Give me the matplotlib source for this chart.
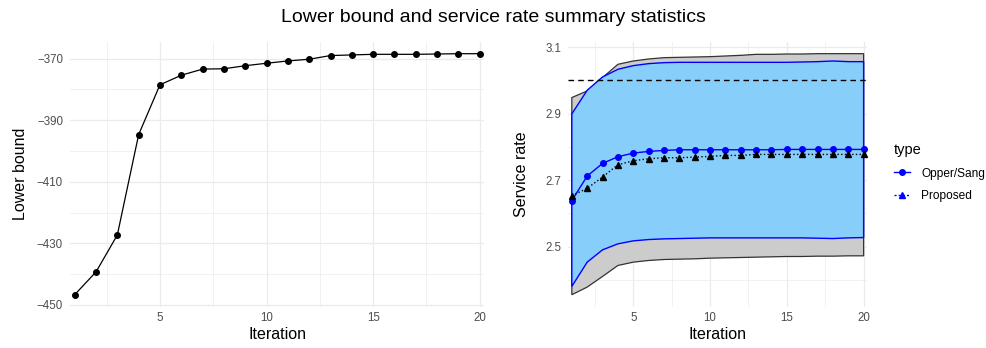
import numpy as np
import matplotlib
matplotlib.use("Agg")
import matplotlib.pyplot as plt
from matplotlib.lines import Line2D

plt.rcParams['font.family'] = ['Liberation Sans', 'DejaVu Sans']

# data
iteration = np.arange(1, 21)
lower_bound = [-446.7, -439.3, -427.3, -394.7, -378.5, -375.4, -373.4, -373.3, -372.3, -371.5,
               -370.75, -370.2, -369.0, -368.8, -368.6, -368.6, -368.6, -368.5, -368.4, -368.4]

gray_upper = [2.948, 2.968, 3.008, 3.048, 3.058, 3.064, 3.068, 3.069, 3.070, 3.071,
              3.073, 3.075, 3.078, 3.078, 3.079, 3.079, 3.080, 3.080, 3.080, 3.080]
gray_lower = [2.355, 2.378, 2.410, 2.443, 2.453, 2.458, 2.461, 2.462, 2.463, 2.465,
              2.466, 2.467, 2.468, 2.469, 2.470, 2.470, 2.471, 2.471, 2.472, 2.472]
blue_upper = [2.899, 2.970, 3.010, 3.033, 3.044, 3.050, 3.053, 3.054, 3.054, 3.054,
              3.054, 3.054, 3.054, 3.054, 3.054, 3.055, 3.056, 3.058, 3.056, 3.056]
blue_lower = [2.380, 2.453, 2.490, 2.508, 2.517, 2.521, 2.523, 2.524, 2.525, 2.526,
              2.526, 2.526, 2.526, 2.526, 2.526, 2.526, 2.525, 2.524, 2.526, 2.527]
opper_sang = [2.638, 2.712, 2.750, 2.770, 2.781, 2.786, 2.789, 2.791, 2.791, 2.791,
              2.791, 2.791, 2.791, 2.791, 2.792, 2.792, 2.792, 2.792, 2.792, 2.792]
proposed = [2.653, 2.675, 2.709, 2.746, 2.758, 2.764, 2.767, 2.767, 2.769, 2.771,
            2.774, 2.774, 2.777, 2.777, 2.777, 2.777, 2.777, 2.777, 2.777, 2.777]
target_rate = 3.0

W, H = 987, 348
fig = plt.figure(figsize=(W / 100, H / 100), dpi=100)

GRID = '#EBEBEB'
TICK = '#4D4D4D'


def style_axes(ax):
    for s in ax.spines.values():
        s.set_visible(False)
    ax.tick_params(length=0, labelsize=8.3, labelcolor=TICK)
    ax.tick_params(axis='y', pad=5)
    ax.tick_params(axis='x', pad=4)
    ax.grid(which='major', color=GRID, linewidth=0.9, zorder=0)
    ax.grid(which='minor', color=GRID, linewidth=0.5, zorder=0)
    ax.tick_params(which='minor', length=0)
    ax.set_axisbelow(True)


# left panel: lower bound
ax1 = fig.add_axes([70 / W, 1 - 306.7 / H, 414 / W, 265 / H])
style_axes(ax1)
ax1.plot(iteration, lower_bound, color='black', linewidth=0.9, marker='o', markersize=4, zorder=3)
ax1.set_xlim(0.78, 20.2)
ax1.set_ylim(-450.6, -364.5)
ax1.set_xticks([5, 10, 15, 20])
ax1.set_xticks([2.5, 7.5, 12.5, 17.5], minor=True)
ax1.set_yticks([-450, -430, -410, -390, -370])
ax1.set_yticks([-440, -420, -400, -380], minor=True)
ax1.set_xlabel('Iteration', fontsize=11.5, labelpad=2)
ax1.set_ylabel('Lower bound', fontsize=11.5, labelpad=6)

# right panel: service rate
ax2 = fig.add_axes([568.3 / W, 1 - 306.7 / H, 298.4 / W, 265 / H])
style_axes(ax2)
x = np.asarray(iteration)
gx = np.concatenate([x, x[::-1]])
ax2.fill(gx, np.concatenate([gray_upper, gray_lower[::-1]]), facecolor='#CCCCCC',
         edgecolor='#333333', linewidth=0.9, zorder=1)
ax2.fill(gx, np.concatenate([blue_upper, blue_lower[::-1]]), facecolor='#87CEFA',
         edgecolor='#0000FF', linewidth=1.0, zorder=2)
ax2.axhline(target_rate, color='black', linestyle=(0, (4, 3)), linewidth=1.0, zorder=3)
ax2.plot(iteration, opper_sang, color='#0000FF', linewidth=1.0, marker='o', markersize=4, zorder=4)
ax2.plot(iteration, proposed, color='black', linewidth=1.0, linestyle=':', marker='^',
         markersize=4.5, zorder=4)
ax2.set_xlim(0.77, 20.2)
ax2.set_ylim(2.319, 3.116)
ax2.set_xticks([5, 10, 15, 20])
ax2.set_xticks([2.5, 7.5, 12.5, 17.5], minor=True)
ax2.set_yticks([2.5, 2.7, 2.9, 3.1])
ax2.set_yticks([2.4, 2.6, 2.8, 3.0], minor=True)
ax2.set_xlabel('Iteration', fontsize=11.5, labelpad=2)
ax2.set_ylabel('Service rate', fontsize=11.5, labelpad=12)

handles = [
    Line2D([], [], color='#0000FF', linewidth=1.0, marker='o', markersize=4),
    Line2D([], [], color='#0000FF', linewidth=1.0, linestyle=(0, (1.5, 1.5)), marker='^', markersize=4.5),
]
leg = fig.legend(handles, ['Opper/Sang', 'Proposed'], title='type', frameon=False,
                 loc='upper left', bbox_to_anchor=(883 / W, 1 - 132 / H),
                 fontsize=8.6, title_fontsize=10.5, handlelength=1.4, handletextpad=0.9,
                 labelspacing=0.9, alignment='left')

fig.suptitle('Lower bound and service rate summary statistics', fontsize=14, y=1 - 17 / H,
             va='center')

fig.savefig('out.png', dpi=100)
